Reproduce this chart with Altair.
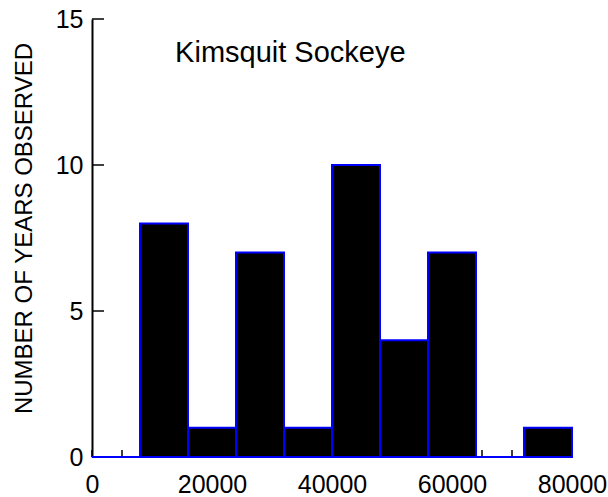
import altair as alt
import pandas as pd

# Histogram of Kimsquit sockeye escapement: bin edges and number of years per bin
bin_start = [0, 8000, 16000, 24000, 32000, 40000, 48000, 56000, 64000, 72000]
bin_end = [8000, 16000, 24000, 32000, 40000, 48000, 56000, 64000, 72000, 80000]
years = [0, 8, 1, 7, 1, 10, 4, 7, 0, 1]

x_labels = [0, 20000, 40000, 60000, 80000]
x_ticks = list(range(0, 80001, 5000))
y_labels = [0, 5, 10, 15]

FONT = "Liberation Sans"

bars_df = pd.DataFrame({"start": bin_start, "end": bin_end, "years": years, "base": [0] * len(years)})
xt_df = pd.DataFrame({"x": x_ticks, "y0": [0] * len(x_ticks), "y1": [0.24] * len(x_ticks)})
yt_df = pd.DataFrame({"y": y_labels, "x0": [0] * len(y_labels), "x1": [2000] * len(y_labels)})
label_df = pd.DataFrame({"x": [13850], "y": [13.54], "text": ["Kimsquit Sockeye"]})

xscale = alt.Scale(domain=[0, 80000], nice=False, zero=False)
yscale = alt.Scale(domain=[0, 15], nice=False)

x_axis = alt.Axis(
    values=x_labels, format="d", domain=False, ticks=False, grid=False,
    labelFontSize=25, labelFont=FONT, labelColor="black", labelPadding=15,
    labelFlush=False, title=None,
)
y_axis = alt.Axis(
    values=y_labels, domain=True, domainColor="black", domainWidth=2,
    ticks=False, grid=False, labelFontSize=25, labelFont=FONT,
    labelColor="black", labelPadding=9, labelFlush=False,
    title="NUMBER OF YEARS OBSERVED", titleFont=FONT, titleFontSize=24,
    titleFontWeight="normal", titleColor="black", titleAngle=270,
    titleX=-61, titleY=209, titleAlign="center", titleBaseline="alphabetic",
)

x_ticks_layer = alt.Chart(xt_df).mark_rule(color="black", strokeWidth=1.5).encode(
    x=alt.X("x:Q", scale=xscale, axis=x_axis),
    y=alt.Y("y0:Q", scale=yscale, axis=y_axis),
    y2="y1:Q",
)

y_ticks_layer = alt.Chart(yt_df).mark_rule(color="black", strokeWidth=1.5).encode(
    x=alt.X("x0:Q", scale=xscale),
    x2="x1:Q",
    y=alt.Y("y:Q", scale=yscale),
)

bars = alt.Chart(bars_df).mark_rect(fill="black", stroke="#0000ff", strokeWidth=2).encode(
    x=alt.X("start:Q", scale=xscale),
    x2="end:Q",
    y=alt.Y("years:Q", scale=yscale),
    y2="base:Q",
)

title_text = alt.Chart(label_df).mark_text(
    align="left", baseline="alphabetic", font=FONT, fontSize=29, color="black"
).encode(
    x=alt.X("x:Q", scale=xscale),
    y=alt.Y("y:Q", scale=yscale),
    text="text:N",
)

chart = alt.layer(x_ticks_layer, y_ticks_layer, bars, title_text).properties(
    width=480,
    height=438,
    autosize=alt.AutoSizeParams(type="none"),
    padding={"left": 92, "top": 19, "right": 36, "bottom": 40},
    background="white",
).configure_view(stroke=None)

chart.save("out.html", embed_options={"renderer": "svg", "actions": False})
